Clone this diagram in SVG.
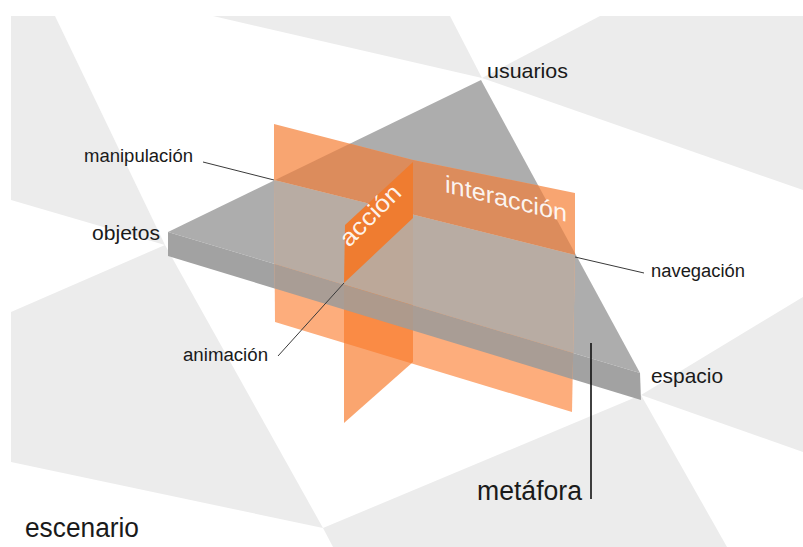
<svg xmlns="http://www.w3.org/2000/svg" width="803" height="547" viewBox="0 0 803 547">
<style>
.bg{fill:#ececec}
.lbl{font-family:"Liberation Sans",Arial,sans-serif;fill:#1a1a1a}
.pl{font-family:"Liberation Sans",Arial,sans-serif;fill:#ffffff;fill-opacity:0.92}
.thin{stroke:#3a3a3a;stroke-width:1;fill:none}
</style>
<defs>
<clipPath id="clipT"><polygon points="481,80 168,232 640,373"/></clipPath>
<clipPath id="clipPlow"><polygon points="274,180 575,255 572,412 275,322"/></clipPath>
<clipPath id="clipSlab"><polygon points="481,80 168,232 640,373"/><polygon points="168,232 640,373 641,400 168,256"/></clipPath>
</defs>
<rect x="0" y="0" width="803" height="547" fill="#ffffff"/>
<g id="scenario-floor">
<polygon class="bg" points="11,16 55,16 165,245 11,200"/>
<polygon class="bg" points="213,16 450,16 482,78"/>
<polygon class="bg" points="600,16 803,16 803,190 482,78"/>
<polygon class="bg" points="11,312 165,245 323,528 11,462"/>
<polygon class="bg" points="323,528 641,395 727,547 333,547"/>
<polygon class="bg" points="803,297 641,395 803,452"/>
</g>
<g id="slab">
<polygon points="481,80 168,232 640,373" fill="#adadad"/>
<polygon points="168,232 640,373 641,400 168,256" fill="#a2a2a2"/>
</g>
<g id="plane-interaccion">
<polygon points="274,124 413,160 575,193 575,255 274,180" fill="#f8a571"/>
<polygon points="274,124 413,160 575,193 575,255 274,180" fill="#dc8c5c" clip-path="url(#clipT)"/>
<polygon points="274,180 575,255 572,412 275,322" fill="#fdad7c"/>
</g>
<g id="plane-accion-low">
<polygon points="413,218 413,362 344,423 344,283" fill="#f87a2b" fill-opacity="0.68"/>
</g>
<g id="slab-front" clip-path="url(#clipPlow)">
<polygon points="481,80 168,232 640,373" fill="#b8aca3"/>
<polygon points="168,232 640,373 641,400 168,256" fill="#a99d95"/>
<polygon points="413,218 413,362 344,423 344,283" fill="#f87a2b" fill-opacity="0.08" clip-path="url(#clipSlab)"/>
</g>
<g id="plane-accion">
<polygon points="345,225 413,162 413,218 344,283" fill="#ef7c30"/>
<text class="pl" font-size="24" textLength="76" lengthAdjust="spacingAndGlyphs" transform="translate(349,248) rotate(-45)">acción</text>
</g>
<g id="interaccion-label">
<text class="pl" font-size="24" textLength="122" lengthAdjust="spacingAndGlyphs" transform="translate(445,192) skewY(13.8)">interacción</text>
</g>
<g id="connectors">
<line class="thin" x1="203" y1="162" x2="274" y2="180"/>
<line class="thin" x1="575" y1="257" x2="644" y2="273"/>
<line class="thin" x1="344" y1="283" x2="278" y2="356"/>
<line x1="591" y1="343" x2="591" y2="499" stroke="#111" stroke-width="1.6"/>
</g>
<g id="usuarios"><text class="lbl" x="487" y="78" font-size="21" textLength="81" lengthAdjust="spacingAndGlyphs">usuarios</text></g>
<g id="manipulacion"><text class="lbl" x="84" y="162" font-size="18" textLength="109" lengthAdjust="spacingAndGlyphs">manipulación</text></g>
<g id="objetos"><text class="lbl" x="92" y="240" font-size="20.5" textLength="68" lengthAdjust="spacingAndGlyphs">objetos</text></g>
<g id="navegacion"><text class="lbl" x="651" y="277" font-size="18" textLength="94" lengthAdjust="spacingAndGlyphs">navegación</text></g>
<g id="espacio"><text class="lbl" x="651" y="383" font-size="21" textLength="72" lengthAdjust="spacingAndGlyphs">espacio</text></g>
<g id="animacion"><text class="lbl" x="183" y="361" font-size="18" textLength="85" lengthAdjust="spacingAndGlyphs">animación</text></g>
<g id="metafora"><text class="lbl" x="477" y="500" font-size="27" textLength="105" lengthAdjust="spacingAndGlyphs">metáfora</text></g>
<g id="escenario"><text class="lbl" x="25" y="537" font-size="27" textLength="114" lengthAdjust="spacingAndGlyphs">escenario</text></g>
</svg>
